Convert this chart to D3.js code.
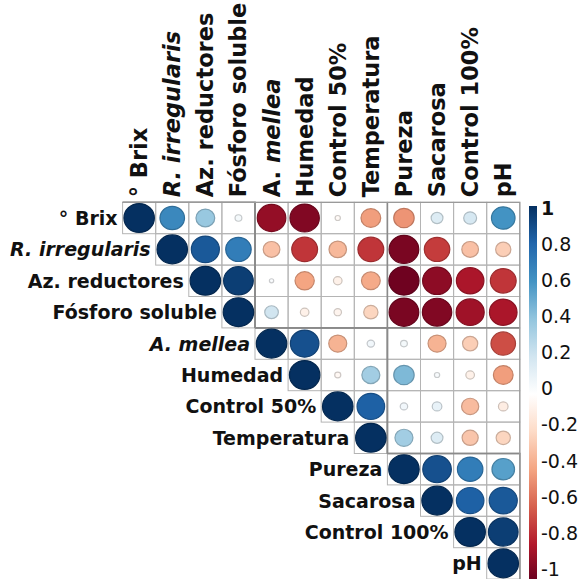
<!DOCTYPE html>
<html>
<head>
<meta charset="utf-8">
<script src="https://cdn.jsdelivr.net/npm/d3@7"></script>
<style>
  body { margin: 0; background: #fff; }
  text { font-family: "DejaVu Sans", sans-serif; }
</style>
</head>
<body>
<svg id="chart" width="579" height="579"></svg>
<script>
// variables in plot order
const vars = ["° Brix", "R. irregularis", "Az. reductores", "Fósforo soluble", "A. mellea",
  "Humedad", "Control 50%", "Temperatura", "Pureza", "Sacarosa", "Control 100%", "pH"];

// upper triangle, each row starts at the diagonal
const rowBrix = [1, 0.65, 0.38, 0.05, -0.88, -0.93, -0.03, -0.42, -0.45, 0.15, 0.18, 0.6];
const rowRirr = [1, 0.85, 0.7, -0.3, -0.72, -0.33, -0.72, -0.95, -0.7, -0.3, -0.25];
const rowAzRed = [1, 0.95, 0.02, -0.4, -0.08, -0.38, -0.98, -0.9, -0.82, -0.72];
const rowFosforo = [1, 0.2, -0.08, -0.06, -0.22, -0.95, -0.93, -0.85, -0.82];
const rowAmellea = [1, 0.88, -0.35, 0.06, 0.05, -0.35, -0.25, -0.65];
const rowHumedad = [1, -0.04, 0.35, 0.45, 0.03, -0.08, -0.42];
const rowControl50 = [1, 0.82, 0.06, 0.1, -0.32, -0.1];
const rowTemp = [1, 0.35, 0.15, -0.28, -0.22];
const rowPureza = [1, 0.88, 0.7, 0.55];
const rowSacarosa = [1, 0.82, 0.85];
const rowControl100 = [1, 0.95];
const rowPH = [1];
const rows = [rowBrix, rowRirr, rowAzRed, rowFosforo, rowAmellea, rowHumedad,
  rowControl50, rowTemp, rowPureza, rowSacarosa, rowControl100, rowPH];

// cluster boundaries (addrect)
const clusterBreaks = [4, 8];
const legendTicks = [1, 0.8, 0.6, 0.4, 0.2, 0, -0.2, -0.4, -0.6, -0.8, -1];

const palette = ["#67001F", "#B2182B", "#D6604D", "#F4A582", "#FDDBC7", "#FFFFFF",
  "#D1E5F0", "#92C5DE", "#4393C3", "#2166AC", "#053061"];

const svg = d3.select("#chart");

const x = d3.scaleBand().domain(d3.range(vars.length)).range([122.6, 519.8]);
const y = d3.scaleBand().domain(d3.range(vars.length)).range([202.3, 579.1]);
const cw = x.bandwidth(), ch = y.bandwidth();
const color = d3.scaleLinear()
  .domain(d3.range(palette.length).map(i => -1 + 2 * i / (palette.length - 1)))
  .range(palette);

const cells = [];
rows.forEach((r, i) => r.forEach((v, k) => cells.push({ i: i, j: i + k, v: v })));

// grid
const grid = svg.append("g");
grid.selectAll("rect").data(cells).join("rect")
  .attr("x", d => x(d.j)).attr("y", d => y(d.i))
  .attr("width", cw).attr("height", ch)
  .attr("fill", "none").attr("stroke", "#b4b4b4").attr("stroke-width", 1);

// cluster rectangles, only the part in the upper triangle
const bounds = [0].concat(clusterBreaks, [vars.length]);
const rectLines = svg.append("g").attr("stroke", "#8a8a8a").attr("stroke-width", 1.6).attr("fill", "none");
for (let b = 0; b < bounds.length - 1; b++) {
  const a = bounds[b], e = bounds[b + 1];
  const x1 = x(e - 1) + cw, ya = y(a), yb = y(e - 1) + ch;
  rectLines.append("path")
    .attr("d", `M${x(a)},${ya}H${x1}V${yb}`);
  if (b > 0) rectLines.append("path").attr("d", `M${x(a)},${ya}V${y(0)}`);
  if (b < bounds.length - 2) rectLines.append("path").attr("d", `M${x1},${yb}H${x(vars.length - 1) + cw}`);
}
svg.append("path").attr("fill", "none").attr("stroke", "#9a9a9a").attr("stroke-width", 1.2)
  .attr("d", `M${x(0)},${y(0)}H${x(vars.length - 1) + cw}V${y(vars.length - 1) + ch}`);

// circles
svg.append("g").selectAll("ellipse").data(cells).join("ellipse")
  .attr("cx", d => x(d.j) + cw / 2)
  .attr("cy", d => y(d.i) + ch / 2)
  .attr("rx", d => 0.46 * cw * Math.sqrt(Math.abs(d.v)))
  .attr("ry", d => 0.46 * ch * Math.sqrt(Math.abs(d.v)))
  .attr("fill", d => color(d.v))
  .attr("stroke", d => d3.color(color(d.v)).darker(0.6))
  .attr("stroke-width", 1.2);

// labels with italic species names
function label(sel, name, italicAll) {
  const m = name.match(/^(R\.|A\.) (.*)$/);
  if (!m) { sel.text(name); return; }
  sel.append("tspan").attr("font-style", italicAll ? "italic" : "normal").text(m[1] + " ");
  sel.append("tspan").attr("font-style", "italic").text(m[2]);
}

const rowLab = svg.append("g").attr("font-size", 19).attr("font-weight", "bold").attr("fill", "#111");
vars.forEach((name, i) => {
  const t = rowLab.append("text")
    .attr("x", x(i) - 5).attr("y", y(i) + ch / 2 + 7)
    .attr("text-anchor", "end");
  label(t, name, true);
});

const colLab = svg.append("g").attr("font-size", 22.5).attr("font-weight", "bold").attr("fill", "#111");
vars.forEach((name, j) => {
  const t = colLab.append("text")
    .attr("transform", `translate(${x(j) + cw / 2 + 8},${y(0) - 5}) rotate(-90)`)
    .attr("text-anchor", "start");
  label(t, name, name.startsWith("R."));
});

// colour legend
const defs = svg.append("defs");
const grad = defs.append("linearGradient").attr("id", "cbar")
  .attr("x1", 0).attr("y1", 0).attr("x2", 0).attr("y2", 1);
palette.slice().reverse().forEach((c, k) => {
  grad.append("stop").attr("offset", k / (palette.length - 1)).attr("stop-color", c);
});
const ly = d3.scaleLinear().domain([-1, 1]).range([569, 208]);
svg.append("rect").attr("x", 529).attr("y", 206).attr("width", 8).attr("height", 376)
  .attr("fill", "url(#cbar)");
const leg = svg.append("g").attr("font-size", 19).attr("fill", "#111");
leg.selectAll("text").data(legendTicks).join("text")
  .attr("x", 541).attr("y", d => ly(d))
  .attr("dy", "0.36em")
  .attr("font-weight", d => d === 1 ? "bold" : "normal")
  .text(d => d3.format("~g")(d).replace("−", "-"));
</script>
</body>
</html>
